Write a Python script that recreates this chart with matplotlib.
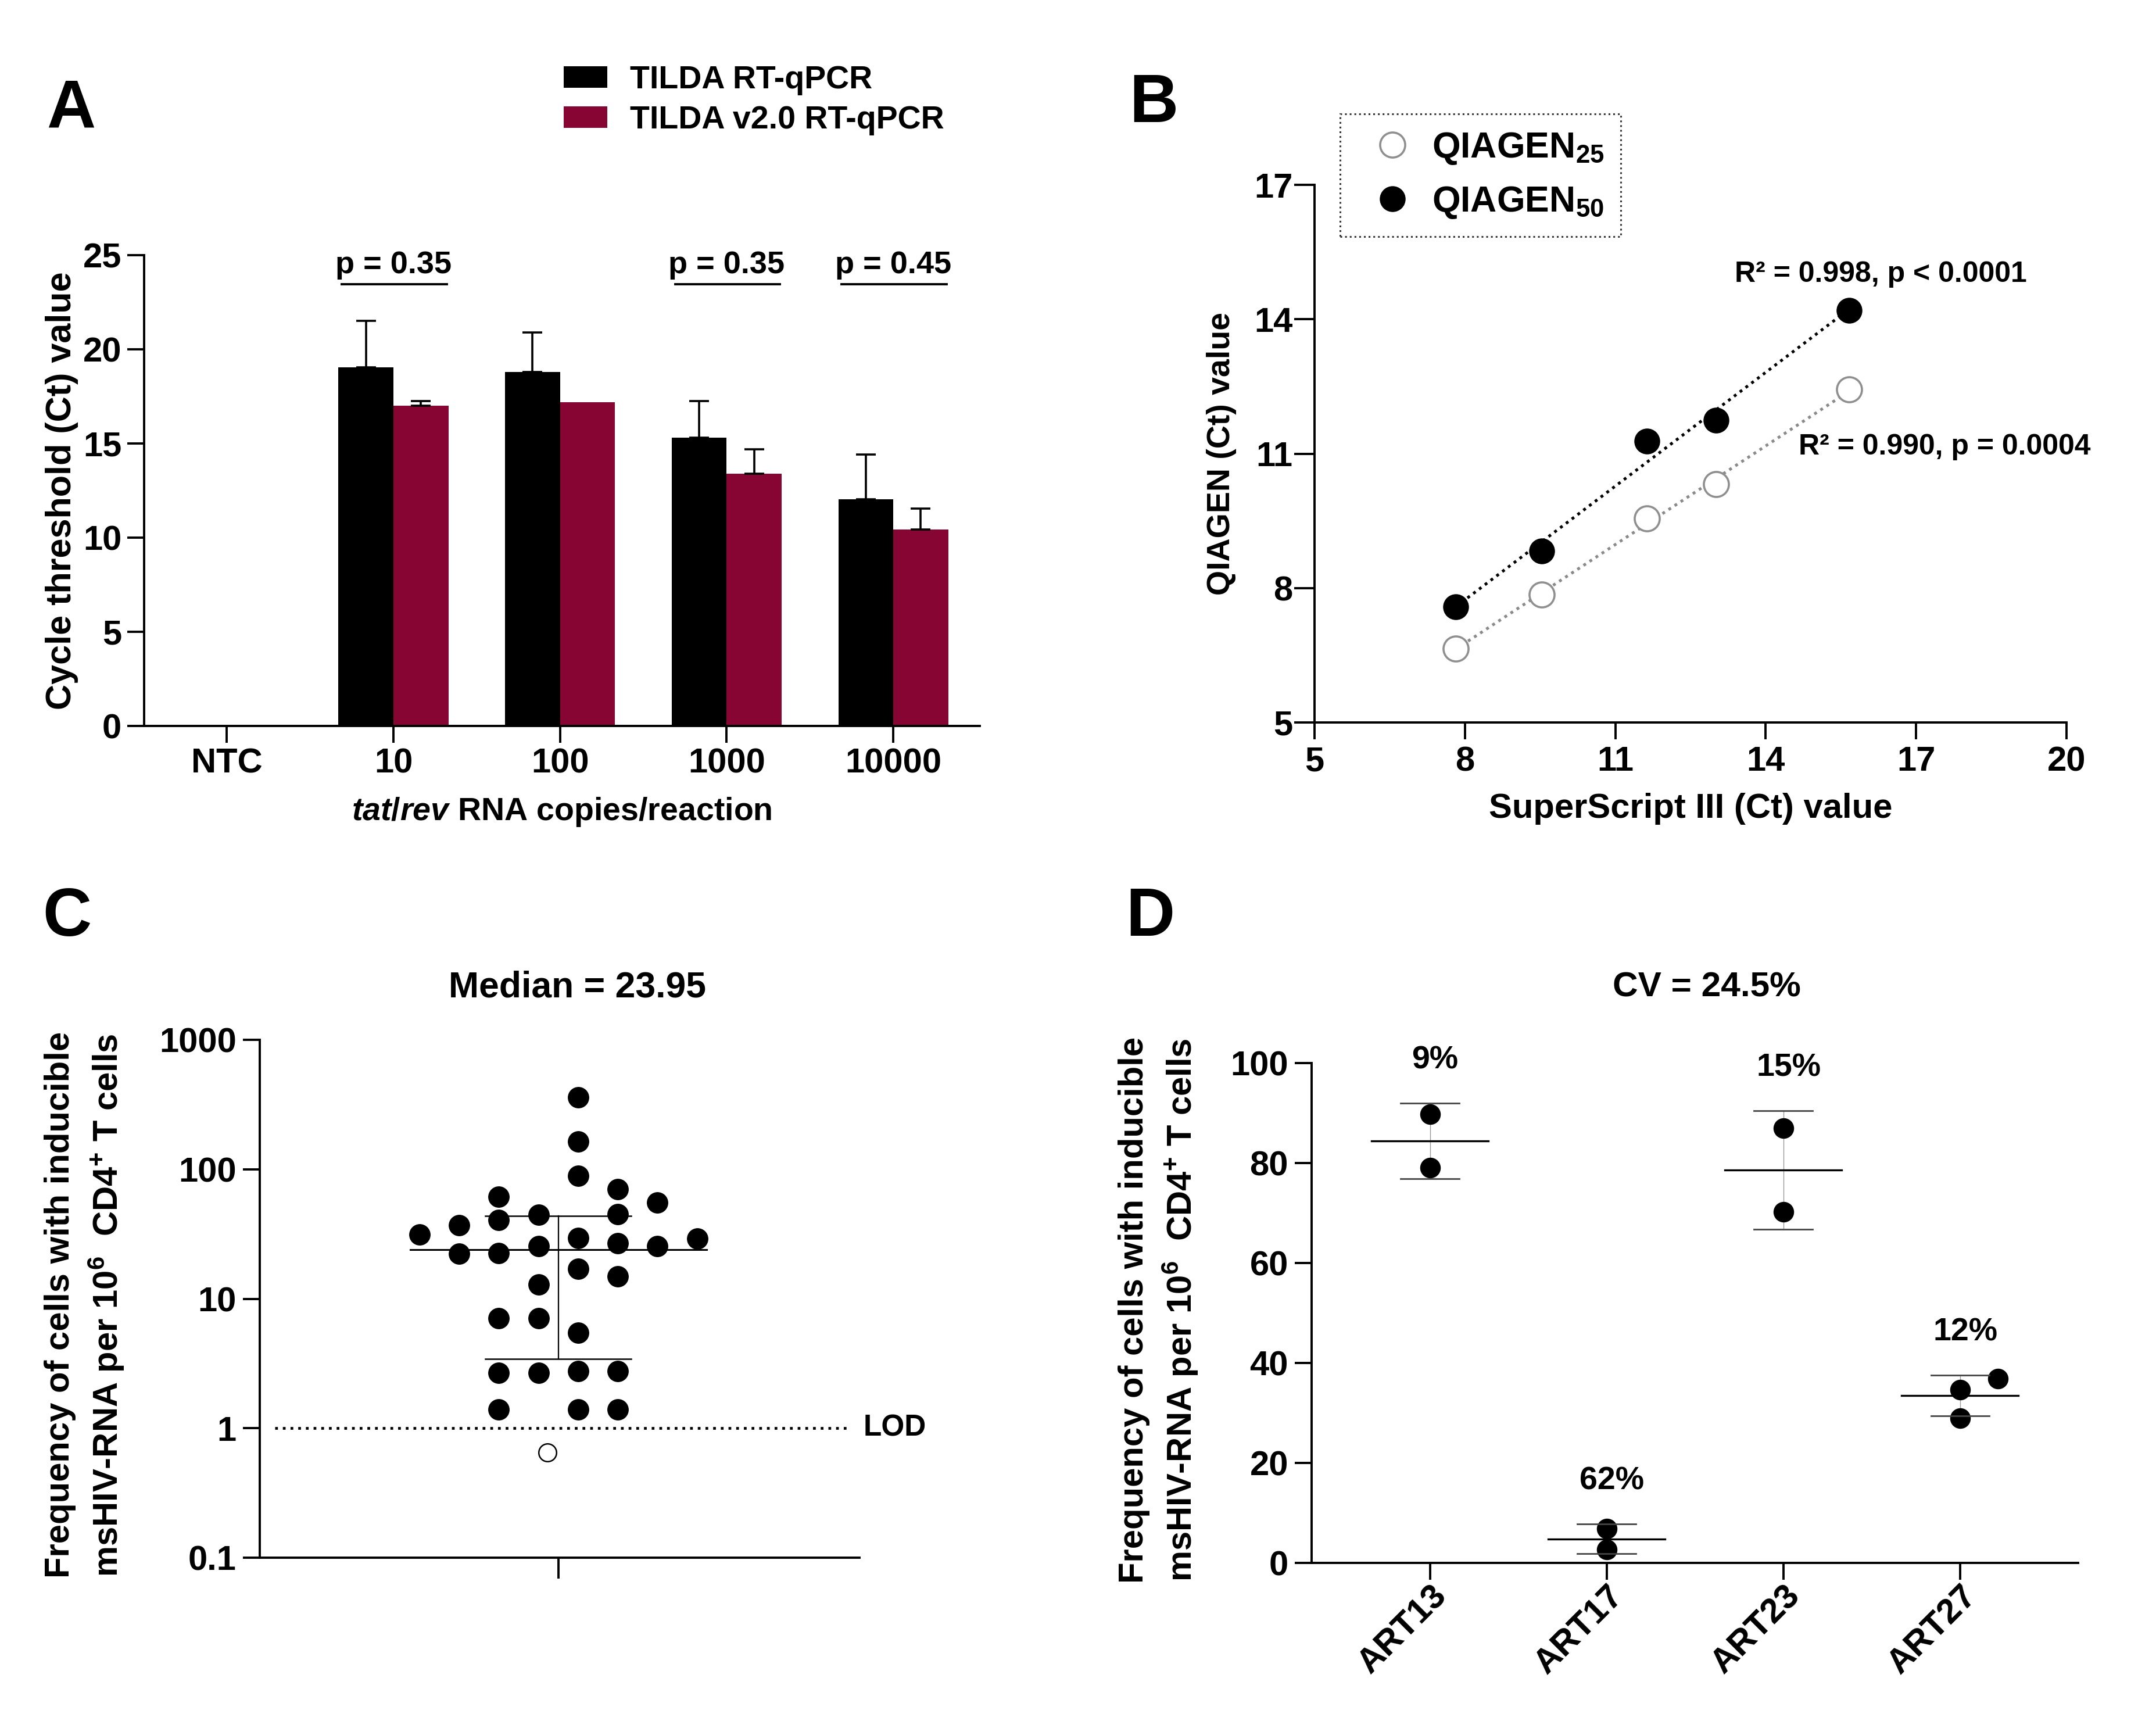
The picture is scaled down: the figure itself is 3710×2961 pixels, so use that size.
import numpy as np
import matplotlib
matplotlib.use('Agg')
import matplotlib.pyplot as plt
from matplotlib.ticker import NullLocator, FuncFormatter
from matplotlib.transforms import ScaledTranslation

plt.rcParams['font.family'] = ['Liberation Sans', 'DejaVu Sans']
plt.rcParams['font.weight'] = 'bold'
plt.rcParams['axes.labelweight'] = 'bold'
plt.rcParams['mathtext.fontset'] = 'custom'
plt.rcParams['mathtext.rm'] = 'Liberation Sans:bold'
plt.rcParams['mathtext.bf'] = 'Liberation Sans:bold'
plt.rcParams['mathtext.it'] = 'Liberation Sans:bold:italic'
plt.rcParams['mathtext.default'] = 'bf'
plt.rcParams['axes.linewidth'] = 2.8
plt.rcParams['xtick.major.width'] = 2.8
plt.rcParams['ytick.major.width'] = 2.8
plt.rcParams['xtick.major.size'] = 21
plt.rcParams['ytick.major.size'] = 21
plt.rcParams['xtick.labelsize'] = 43
plt.rcParams['ytick.labelsize'] = 43

FS = 43

# ---- panel A data: Ct of tat/rev standards
copies = ['NTC', '10', '100', '1000', '10000']
ct_tilda = [np.nan, 19.03, 18.8, 15.3, 12.03]
ct_tilda_err = [0, 2.47, 2.1, 1.95, 2.37]
ct_v2 = [np.nan, 17.0, 17.2, 13.4, 10.43]
ct_v2_err = [0, 0.25, 0, 1.3, 1.11]
p_groups = ['10', '1000', '10000']
p_labels = ['p = 0.35', 'p = 0.35', 'p = 0.45']

# ---- panel B data: QIAGEN vs SuperScript III
superscript_ct = [7.82, 9.53, 11.63, 13.01, 15.67]
qiagen25_ct = [6.65, 7.85, 9.56, 10.32, 12.43]
qiagen50_ct = [7.58, 8.83, 11.28, 11.74, 14.2]
fit50_label = 'R² = 0.998, p < 0.0001'
fit25_label = 'R² = 0.990, p = 0.0004'

# ---- panel C data: frequency per 10^6 CD4 T cells
freq_detected = [359, 164, 88.7, 70, 61.6, 55.5, 40.6, 44.4, 44.8, 36.8,
                 31.2, 29.1, 29.4, 26.9, 25.4, 25.4, 22.2, 22.5, 17.0, 14.9,
                 12.9, 7.06, 7.06, 5.48, 2.69, 2.69, 2.77, 2.77, 1.40, 1.40,
                 1.40]
freq_undetected = [0.652]
lod = 1

# ---- panel D data: replicates per participant
participants = ['ART13', 'ART17', 'ART23', 'ART27']
replicates = [[89.8, 79.1], [6.9, 2.7], [87.0, 70.2], [34.6, 36.9, 29.0]]
cv_labels = ['9%', '62%', '15%', '12%']
cv_title = 'CV = 24.5%'

# swarm columns as laid out in the figure
swarm_slot = [0.5, 0.5, 0.5, 1.5, -1.5, 2.5, -1.5, -0.5, 1.5, -2.5,
              -3.5, 3.5, 0.5, 1.5, -0.5, 2.5, -2.5, -1.5, 0.5, 1.5,
              -0.5, -1.5, -0.5, 0.5, -1.5, -0.5, 0.5, 1.5, -1.5, 0.5,
              1.5]
undetected_slot = [-0.28]
d_jitter = [[0, 0], [0, 0], [0, 0], [0, 0.214, 0]]

W, H = 3710, 2961
fig = plt.figure(figsize=(W / 100, H / 100), dpi=100)


def clean(ax):
    ax.spines['top'].set_visible(False)
    ax.spines['right'].set_visible(False)


# ================= A
axA = fig.add_axes([0.0669, 0.5782, 0.3876, 0.2736])
clean(axA)
x = np.arange(len(copies))
w = 0.33
bk = axA.bar(x - w / 2, ct_tilda, w, color='black')
mr = axA.bar(x + w / 2, ct_v2, w, color='#870533')
for xs, ys, es in [(x - w / 2, ct_tilda, ct_tilda_err), (x + w / 2, ct_v2, ct_v2_err)]:
    ys = np.array(ys)
    es = np.array(es)
    ok = es > 0
    axA.errorbar(xs[ok], ys[ok], yerr=[np.zeros(ok.sum()), es[ok]], fmt='none',
                 ecolor='black', elinewidth=2.6, capsize=12, capthick=2.6)
for g, lab in zip(p_groups, p_labels):
    i = copies.index(g)
    axA.plot([i - 0.31, i + 0.32], [23.45, 23.45], color='black', lw=2.8)
    axA.text(i, 24.05, lab, ha='center', va='baseline', fontsize=39)
axA.set_xlim(-0.496, 4.52)
axA.set_ylim(0, 25)
axA.set_yticks(range(0, 26, 5))
axA.set_xticks(x)
axA.set_xticklabels(copies)
axA.tick_params(axis='y', pad=7)
axA.tick_params(axis='x', pad=6)
axA.set_ylabel('Cycle threshold (Ct) value', fontsize=44, va='center')
axA.yaxis.set_label_coords(-0.0984, 0.5)
axA.set_xlabel(r'$\it{tat/rev}$ RNA copies/reaction', fontsize=40, va='center')
axA.xaxis.set_label_coords(0.5, -0.183)
fig.legend([bk, mr], ['TILDA RT-qPCR', 'TILDA v2.0 RT-qPCR'], loc='upper left',
           bbox_to_anchor=(970 / W, 1 - 112 / H), frameon=False, fontsize=40,
           handlelength=1.35, handleheight=0.63, handletextpad=0.7,
           labelspacing=0.31, borderpad=0, borderaxespad=0)

# ================= B
axB = fig.add_axes([0.6097, 0.5802, 0.3488, 0.3124])
clean(axB)
axB.plot(superscript_ct, qiagen25_ct, 'o', ms=31, mfc='white', mec='#8f8f8f',
         mew=2.6, zorder=3, label=r'QIAGEN$_{25}$')
axB.plot(superscript_ct, qiagen50_ct, 'o', ms=31, color='black', zorder=3,
         label=r'QIAGEN$_{50}$')
xs = np.array([min(superscript_ct), max(superscript_ct)])
for yv, col in [(qiagen25_ct, '#8a8a8a'), (qiagen50_ct, 'black')]:
    slope, icpt = np.polyfit(superscript_ct, yv, 1)
    axB.plot(xs, slope * xs + icpt, ls=(0, (1, 1.5)), lw=3.6, color=col, zorder=2)
axB.text(13.38, 15.0, fit50_label, ha='left', va='center', fontsize=36)
axB.text(14.66, 11.15, fit25_label, ha='left', va='center', fontsize=36)
axB.set_xlim(5, 20)
axB.set_ylim(5, 17)
axB.set_xticks(range(5, 21, 3))
axB.set_yticks(range(5, 18, 3))
axB.tick_params(axis='y', pad=2, length=25)
axB.tick_params(axis='x', pad=8)
axB.set_ylabel('QIAGEN (Ct) value', fontsize=40, va='center')
axB.yaxis.set_label_coords(-0.124, 0.5)
axB.set_xlabel('SuperScript III (Ct) value', fontsize=FS, va='center')
axB.xaxis.set_label_coords(0.5, -0.160)
leg = axB.legend(loc='upper left', bbox_to_anchor=(2306 / W, 1 - 196 / H),
                 bbox_transform=fig.transFigure, fontsize=45, handlelength=1.95,
                 borderpad=0.46, handletextpad=0.11, labelspacing=0.51,
                 fancybox=False, edgecolor='black', numpoints=1, borderaxespad=0)
leg.get_frame().set_linestyle(':')
leg.get_frame().set_linewidth(2.2)

# ================= C
axC = fig.add_axes([0.1205, 0.0949, 0.2782, 0.3009])
clean(axC)
axC.set_yscale('log')
axC.plot(swarm_slot, freq_detected, 'o', ms=25.5, color='black', zorder=3)
axC.plot(undetected_slot, freq_undetected, 'o', ms=22, mfc='white', mec='black',
         mew=1.8, zorder=3)
all_vals = np.array(freq_detected + freq_undetected)
med = np.median(all_vals)
q1, q3 = np.percentile(all_vals, [25, 75], method='weibull')
axC.plot([-3.73, 3.74], [med, med], color='black', lw=2.2, zorder=4)
axC.plot([-1.84, 1.84], [q1, q1], color='black', lw=1.8, zorder=4)
axC.plot([-1.84, 1.84], [q3, q3], color='black', lw=1.8, zorder=4)
axC.plot([0, 0], [q1, q3], color='black', lw=1.6, zorder=4)
axC.plot([-7.14, 7.33], [lod, lod], ls=(0, (1, 1.8)), lw=3.4, color='black')
axC.text(7.68, lod, 'LOD', ha='left', va='center', fontsize=37)
axC.set_xlim(-7.52, 7.59)
axC.set_ylim(0.1, 1000)
axC.set_yticks([0.1, 1, 10, 100, 1000])
axC.yaxis.set_minor_locator(NullLocator())
axC.yaxis.set_major_formatter(FuncFormatter(lambda v, p: f'{v:g}'))
axC.set_xticks([0])
axC.set_xticklabels([''])
axC.tick_params(axis='x', length=26)
axC.tick_params(axis='y', pad=8)
ylab = 'Frequency of cells with inducible\n' + r'msHIV-RNA per 10$^{6}$  CD4$^{+}$ T cells'
axC.set_ylabel(ylab, fontsize=FS, va='center', linespacing=1.35)
axC.yaxis.set_label_coords(-0.291, 0.488)
fig.text(994 / W, 1 - 1699 / H, f'Median = {med:.2f}', ha='center', va='center',
         fontsize=45)

# ================= D
axD = fig.add_axes([0.6084, 0.0919, 0.3555, 0.2904])
clean(axD)
for i, reps in enumerate(replicates):
    px = i + np.array(d_jitter[i])
    axD.plot(px, reps, 'o', ms=24.5, color='black', zorder=3)
    m = np.mean(reps)
    s = np.std(reps, ddof=1)
    axD.plot([i - 0.33, i + 0.33], [m, m], color='black', lw=2.4, zorder=4)
    axD.plot([i - 0.165, i + 0.165], [m + s, m + s], color='#444444', lw=2, zorder=4)
    axD.plot([i - 0.165, i + 0.165], [m - s, m - s], color='#444444', lw=2, zorder=4)
    axD.plot([i, i], [m - s, m + s], color='#999999', lw=1, zorder=2)
    axD.text(i + 0.03, m + s + 8.5, cv_labels[i], ha='center', va='center', fontsize=40)
axD.set_xlim(-0.669, 3.669)
axD.set_ylim(0, 100)
axD.set_yticks(range(0, 101, 20))
axD.set_xticks(range(len(participants)))
axD.tick_params(axis='x', pad=14)
axD.tick_params(axis='y', pad=8)
axD.set_xticklabels(participants, rotation=45, ha='right', va='center',
                    rotation_mode='anchor')
shift = ScaledTranslation(0.2, 0, fig.dpi_scale_trans)
for lbl in axD.get_xticklabels():
    lbl.set_transform(lbl.get_transform() + shift)
axD.set_ylabel(ylab, fontsize=FS, va='center', linespacing=1.35)
axD.yaxis.set_label_coords(-0.199, 0.506)
fig.text(2937 / W, 1 - 1699 / H, cv_title, ha='center', va='center', fontsize=43.5)

# panel letters
for lt, (lx, ly) in zip('ABCD', [(122, 189), (1985, 179), (115, 1579), (1979, 1579)]):
    fig.text(lx / W, 1 - ly / H, lt, ha='center', va='center', fontsize=84)

fig.savefig('out.png', dpi=100, facecolor='white')
